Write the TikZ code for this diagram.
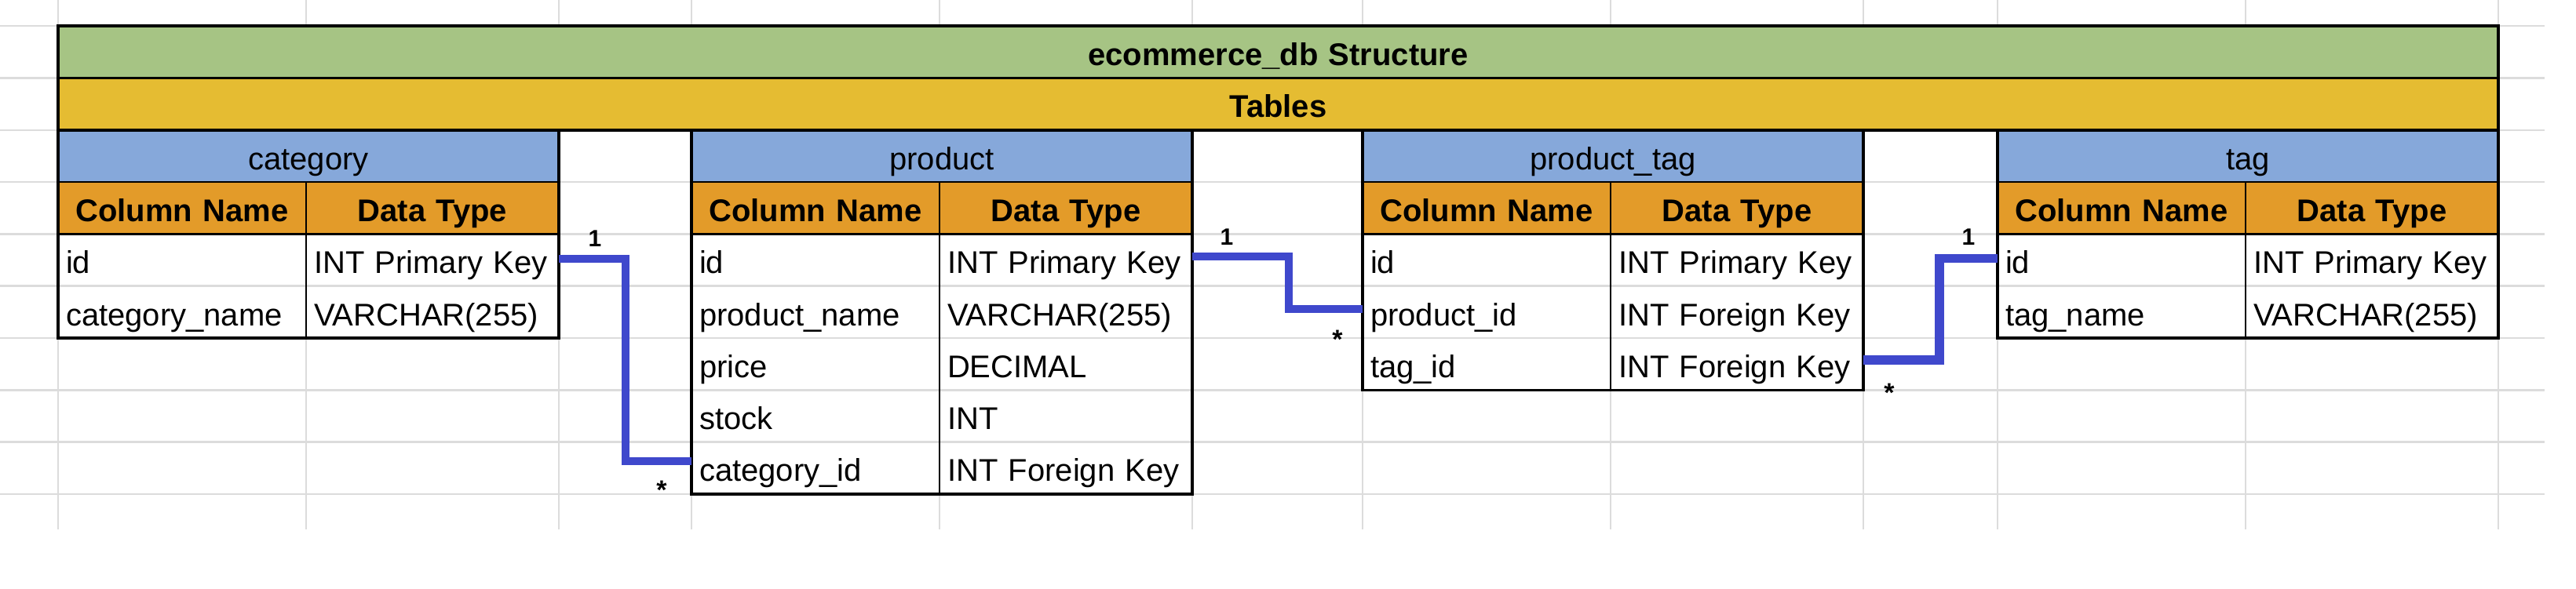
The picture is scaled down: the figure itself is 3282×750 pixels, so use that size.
\documentclass[tikz,border=0pt]{standalone}
\usepackage{fontspec}
\setmainfont{Liberation Sans}
\definecolor{titlegreen}{RGB}{166,196,132}
\definecolor{tablesgold}{RGB}{229,188,50}
\definecolor{hdrblue}{RGB}{134,168,218}
\definecolor{hdrorange}{RGB}{227,155,41}
\definecolor{connblue}{RGB}{63,72,204}
\definecolor{gridgray}{RGB}{220,220,220}
\begin{document}
\begin{tikzpicture}[x=1pt,y=-1pt,
  cell/.style={anchor=north west, outer sep=0pt, inner xsep=10pt, inner ysep=0pt,
    minimum height=66.3pt, text height=50.3pt, text depth=16pt,
    font=\fontsize{40}{48}\selectfont},
  ca/.style={cell, text width=296pt, align=left},
  cb/.style={cell, text width=302pt, align=left},
  hda/.style={cell, text width=296pt, align=center, fill=hdrorange, font=\bfseries\fontsize{40}{48}\selectfont},
  hdb/.style={cell, text width=302pt, align=center, fill=hdrorange, font=\bfseries\fontsize{40}{48}\selectfont},
  tname/.style={cell, text width=618pt, align=center, fill=hdrblue},
  banner/.style={cell, text width=3089pt, align=center, font=\bfseries\fontsize{40}{48}\selectfont},
  gridline/.style={draw=gridgray, line width=2.5pt},
  border/.style={draw=black, line width=3.5pt},
  innerline/.style={draw=black, line width=2.5pt},
  conn/.style={draw=connblue, line width=10pt, line join=miter},
  lbl/.style={inner sep=0pt, font=\bfseries\fontsize{30}{30}\selectfont},
  manylbl/.style={inner sep=0pt, anchor=base, font=\bfseries\fontsize{34}{34}\selectfont}
]
\useasboundingbox (0,0) rectangle (3282,750);
% spreadsheet grid
\foreach \y in {33.2,99.5,165.8,232.1,298.4,364.7,431,497.3,563.6,629.9}
  \draw[gridline] (0,\y) -- (3242,\y);
\foreach \x in {74,390,712,881,1197,1519,1736,2052,2374,2545,2861,3183}
  \draw[gridline] (\x,0) -- (\x,675);

% banners
\node[banner, fill=titlegreen] (title) at (74,33.2) {ecommerce\_db Structure};
\node[banner, fill=tablesgold] (tables) at (74,99.5) {Tables};

% table headers
\foreach \id/\nm/\x in {cat/category/74, prod/product/881, pt/product\_tag/1736, tag/tag/2545}{
  \node[tname] (\id-h) at (\x,165.8) {\nm};
  \node[hda] (\id-c1) at (\x,232.1) {Column Name};
  \node[hdb] (\id-c2) at ({\x+316},232.1) {Data Type};
}

% category rows
\foreach \i/\a/\b in {1/id/INT Primary Key, 2/category\_name/VARCHAR(255)}{
  \node[ca] (cat-r\i-a) at (74,{298.4+66.3*(\i-1)}) {\a};
  \node[cb] (cat-r\i-b) at (390,{298.4+66.3*(\i-1)}) {\b};
}
% product rows
\foreach \i/\a/\b in {1/id/INT Primary Key, 2/product\_name/VARCHAR(255), 3/price/DECIMAL, 4/stock/INT, 5/category\_id/INT Foreign Key}{
  \node[ca] (prod-r\i-a) at (881,{298.4+66.3*(\i-1)}) {\a};
  \node[cb] (prod-r\i-b) at (1197,{298.4+66.3*(\i-1)}) {\b};
}
% product_tag rows
\foreach \i/\a/\b in {1/id/INT Primary Key, 2/product\_id/INT Foreign Key, 3/tag\_id/INT Foreign Key}{
  \node[ca] (pt-r\i-a) at (1736,{298.4+66.3*(\i-1)}) {\a};
  \node[cb] (pt-r\i-b) at (2052,{298.4+66.3*(\i-1)}) {\b};
}
% tag rows
\foreach \i/\a/\b in {1/id/INT Primary Key, 2/tag\_name/VARCHAR(255)}{
  \node[ca] (tag-r\i-a) at (2545,{298.4+66.3*(\i-1)}) {\a};
  \node[cb] (tag-r\i-b) at (2861,{298.4+66.3*(\i-1)}) {\b};
}

% borders
\draw[border] (title.north west) rectangle (tables.south east);
\draw[border] (title.south west) -- (title.south east);
\foreach \id/\last in {cat/2, prod/5, pt/3, tag/2}{
  \draw[innerline] (\id-c1.north east) -- (\id-r\last-a.south east);
  \draw[innerline] (\id-h.south west) -- (\id-h.south east);
  \draw[innerline] (\id-c1.south west) -- (\id-c2.south east);
  \draw[border] (\id-h.north west) rectangle (\id-r\last-b.south east);
}

% relationship connectors
\draw[conn] ([yshift=2pt]cat-r1-b.east) -- ++(85pt,0) |- ([yshift=9pt]prod-r5-a.west);
\draw[conn] ([yshift=5pt]prod-r1-b.east) -- ++(123pt,0) |- ([yshift=4pt]pt-r2-a.west);
\draw[conn, line width=11.5pt] ([yshift=5pt]pt-r3-b.east) -- ++(97pt,0) |- ([yshift=2pt]tag-r1-a.west);

% cardinality labels
\node[lbl] (c1-one) at (758,304) {1};
\node[manylbl] (c1-many) at (843,636) {*};
\node[lbl] (c2-one) at (1563,302) {1};
\node[manylbl] (c2-many) at (1704,444) {*};
\node[lbl] (c3-one) at (2508,302) {1};
\node[manylbl] (c3-many) at (2407,512) {*};
\end{tikzpicture}
\end{document}
